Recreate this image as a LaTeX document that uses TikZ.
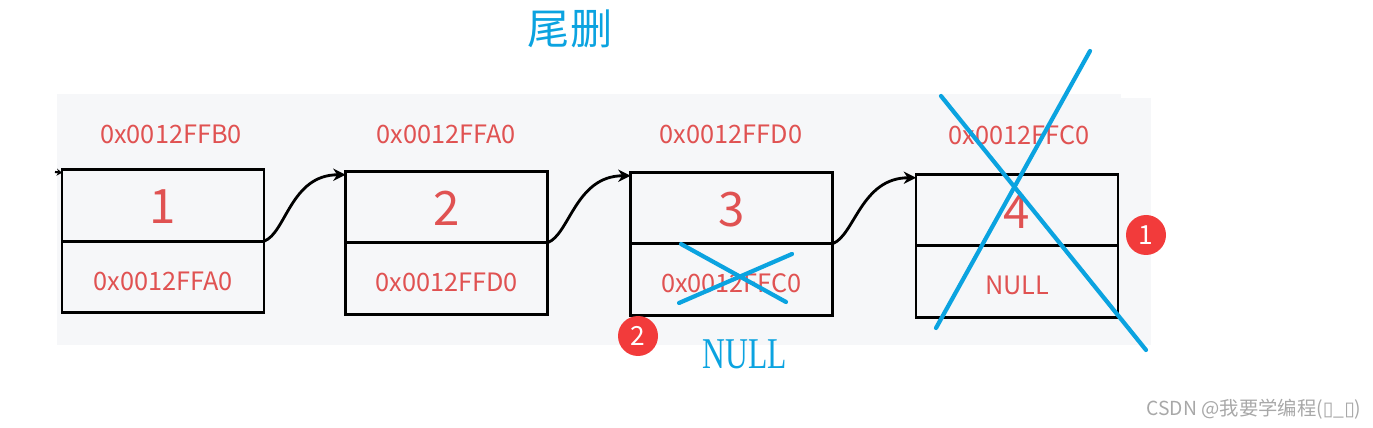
\documentclass[tikz,border=0pt]{standalone}
\usepackage{fontspec}
\usepackage{tikz}
\usetikzlibrary{arrows.meta,positioning}
\setmainfont{Noto Sans CJK SC}
\newfontfamily\tnr{Liberation Serif}
\newfontfamily\dvs{DejaVu Sans}
\definecolor{addr}{HTML}{E05252}
\definecolor{cross}{HTML}{0BA3E0}
\definecolor{badge}{HTML}{F23B3B}
\definecolor{panel}{HTML}{F6F7F9}
\definecolor{mark}{HTML}{A8A8A8}

\begin{document}
\begin{tikzpicture}
  [x=0.02cm,y=-0.02cm,
   every node/.style={inner sep=0pt,outer sep=0pt},
   cell/.style={draw,line width=1.6pt,minimum width=4.04cm,minimum height=1.43cm,text=addr},
   val/.style={cell,font=\fontsize{27}{27}\selectfont,text height=21pt,text depth=0pt},
   nxt/.style={cell,font=\fontsize{14.4}{14.4}\selectfont,text height=15pt,text depth=0pt},
   addr/.style={text=addr,font=\fontsize{14.4}{14.4}\selectfont},
   link/.style={line width=1.6pt,-{Stealth[length=7pt,width=7pt]}},
   strike/.style={cross,line width=2.4pt,line cap=round},
   dot/.style={circle,fill=badge,text=white,minimum size=0.8cm,font=\fontsize{15}{15}\selectfont}]
  \useasboundingbox (0,0) rectangle (1373,428);
  % background
  \fill[panel] (57,94) rectangle (1121,345);
  \fill[panel] (57,98) rectangle (1151,345);

  \node[text=cross,font=\fontsize{24}{24}\selectfont] (title) at (570,29) {尾删};

  % list
  \node[val] (t1) at (163,205.5) {1};
  \node[nxt,below=0pt of t1] (b1) {0x0012FFA0};
  \node[val] (t2) at (446.5,207) {2};
  \node[nxt,below=0pt of t2] (b2) {0x0012FFD0};
  \node[val] (t3) at (731.5,208) {3};
  \node[nxt,below=0pt of t3] (b3) {0x0012FFC0};
  \node[val] (t4) at (1017,210) {4};
  \node[nxt,below=0pt of t4] (b4) {NULL};

  \node[addr] (a1) at (171,134) {0x0012FFB0};
  \node[addr] (a2) at (446,134) {0x0012FFA0};
  \node[addr] (a3) at (731,134) {0x0012FFD0};
  \node[addr] (a4) at (1019,135) {0x0012FFC0};

  \coordinate (head) at (55,172);
  \draw[line width=1.2pt,-{Stealth[length=3pt,width=4pt]}] (head) -- ([yshift=-0.06cm]t1.north west);
  \foreach \from/\to in {b1/t2,b2/t3,b3/t4}
    \draw[link] (\from.north east) .. controls +(22,-8) and +(-55,0) .. ([yshift=-0.07cm]\to.north west);

  % deleted
  \draw[strike] (681,244) -- (786,302);
  \draw[strike] (679,303) -- (792,254);
  \draw[strike] (941,96) -- (1146,350);
  \draw[strike] (936,328) -- (1090,51);

  \node[text=cross,font=\tnr\fontsize{25}{25}\selectfont] (null) at (744.5,354) {\scalebox{0.72}[1]{NULL}};
  \node[dot] (s1) at (1146,235) {1};
  \node[dot] (s2) at (638,336) {2};

  \node[text=mark,font=\fontsize{11}{11}\selectfont] (wm) at (1254,409) {CSDN @我要学编程({\dvs ▯}\_{\dvs ▯})};
\end{tikzpicture}
\end{document}
